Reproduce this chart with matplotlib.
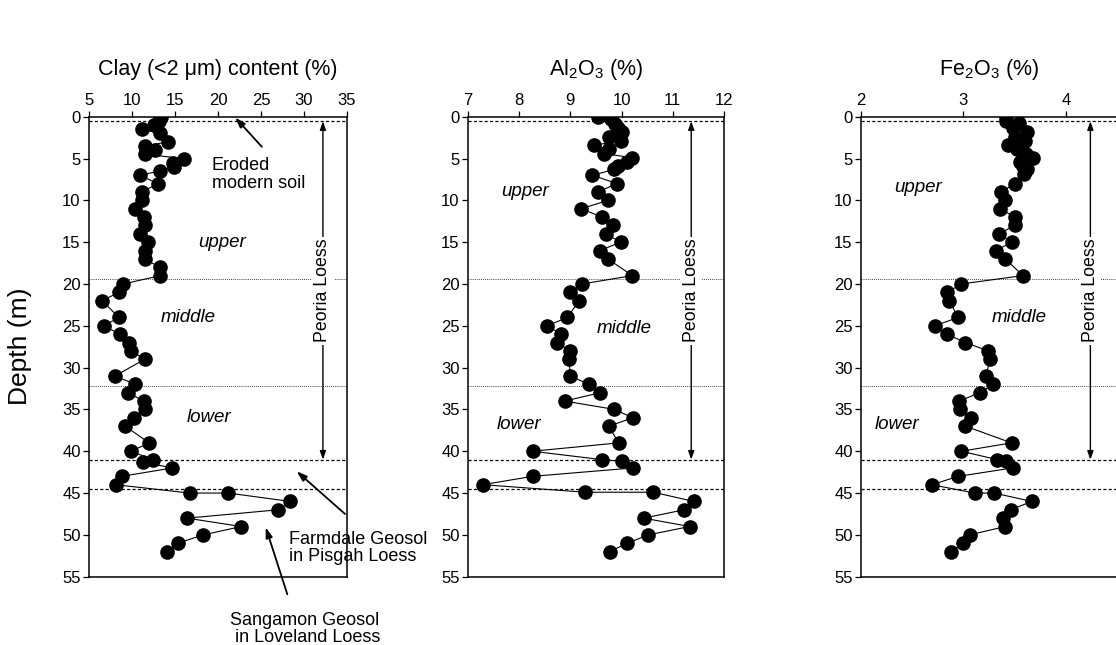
import matplotlib
matplotlib.use("Agg")
import matplotlib.pyplot as plt

plt.rcParams['font.family'] = ['Liberation Sans', 'DejaVu Sans']

# ---------------- data ----------------
clay_depth = [0, 0.5, 1.0, 1.5, 2, 3, 3.5, 4, 4.5, 5, 5.5, 6, 6.5, 7, 8, 9, 10, 11, 12, 13,
              14, 15, 16, 17, 18, 19, 20, 21, 22, 24, 25, 26, 27, 28, 29, 31, 32, 33, 34, 35,
              36, 37, 39, 40, 41, 41.3, 42, 43, 44, 45, 45, 46, 47, 48, 49, 50, 51, 52]
clay = [13.4, 13.1, 12.6, 11.2, 13.2, 14.2, 11.5, 12.7, 11.5, 16.1, 14.8, 14.9, 13.2, 10.9, 13.0,
        11.2, 11.2, 10.3, 11.4, 11.5, 10.9, 11.9, 11.5, 11.5, 13.2, 13.3, 9.0, 8.5, 6.5, 8.5,
        6.7, 8.6, 9.6, 9.9, 11.5, 8.0, 10.4, 9.5, 11.4, 11.5, 10.2, 9.2, 12.0, 9.9, 12.4,
        11.3, 14.7, 8.8, 8.1, 16.7, 21.2, 28.4, 27.0, 16.4, 22.7, 18.3, 15.3, 14.1]

al_depth = [0, 0.3, 0.9, 1.3, 1.8, 2.4, 2.9, 3.4, 3.9, 4.4, 4.9, 5.4, 5.9, 6.3, 7, 8, 9, 10, 11, 12,
            13, 14, 15, 16, 17, 19, 20, 21, 22, 24, 25, 26, 27, 28, 29, 31, 32, 33, 34, 35,
            36, 37, 39, 40, 41, 41.2, 42, 43, 44, 44.9, 44.9, 46, 47, 48, 49, 50, 51, 52]
al2o3 = [9.54, 9.79, 9.88, 9.92, 10.0, 9.75, 9.98, 9.47, 9.75, 9.65, 10.2, 10.1, 9.92, 9.86, 9.43,
         9.91, 9.54, 9.74, 9.21, 9.62, 9.83, 9.70, 9.98, 9.58, 9.73, 10.21, 9.23, 8.99, 9.17, 8.94,
         8.55, 8.82, 8.74, 9.0, 8.97, 9.0, 9.36, 9.58, 8.89, 9.86, 10.22, 9.75, 9.94, 8.26, 9.61,
         10.01, 10.22, 8.26, 7.29, 9.29, 10.62, 11.41, 11.22, 10.43, 11.33, 10.52, 10.11, 9.77]

fe_depth = [0, 0.5, 0.8, 1.4, 1.8, 2.4, 2.9, 3.4, 3.9, 4.4, 4.9, 5.4, 5.9, 6.3, 6.9, 8, 9, 10, 11, 12,
            13, 14, 15, 16, 17, 19, 20, 21, 22, 24, 25, 26, 27, 28, 29, 31, 32, 33, 34, 35,
            36, 37, 39, 40, 41, 41.2, 42, 43, 44, 45, 45, 46, 47, 48, 49, 50, 51, 52]
fe2o3 = [3.42, 3.42, 3.54, 3.48, 3.62, 3.50, 3.60, 3.44, 3.52, 3.61, 3.68, 3.55, 3.58, 3.62, 3.59,
         3.50, 3.37, 3.41, 3.36, 3.50, 3.50, 3.35, 3.47, 3.32, 3.41, 3.58, 2.98, 2.84, 2.86, 2.95,
         2.72, 2.84, 3.02, 3.24, 3.26, 3.22, 3.29, 3.16, 2.96, 2.97, 3.07, 3.02, 3.47, 2.98, 3.33,
         3.42, 3.48, 2.95, 2.69, 3.11, 3.30, 3.67, 3.46, 3.39, 3.41, 3.06, 3.00, 2.88]

titles = ["Clay (<2 \u03bcm) content (%)",
          "Al$_\\mathregular{2}$O$_\\mathregular{3}$ (%)",
          "Fe$_\\mathregular{2}$O$_\\mathregular{3}$ (%)"]
xticks = [[5, 10, 15, 20, 25, 30, 35], [7, 8, 9, 10, 11, 12], [2, 3, 4]]
xlims = [(5, 35), (7, 12), (2, 4.5)]
yticks = [0, 5, 10, 15, 20, 25, 30, 35, 40, 45, 50, 55]

dashed_depths = [0.5, 41.0, 44.5]
dotted_depths = [19.4, 32.2]
peoria_x = [32.2, 11.36, 4.24]
unit_labels = ["upper", "middle", "lower"]
unit_pos = [[(20.5, 15.0), (16.5, 24.0), (19.0, 36.0)],
            [(8.12, 8.9), (10.05, 25.3), (8.0, 36.8)],
            [(2.56, 8.5), (3.54, 24.0), (2.35, 36.8)]]

# ---------------- figure ----------------
W, H = 1116, 645
fig = plt.figure(figsize=(W / 100, H / 100), dpi=100)

top_px, bot_px = 116.7, 576.7
lefts_px = [89, 468, 861]
widths_px = [258, 256, 256]

series = [(clay, clay_depth), (al2o3, al_depth), (fe2o3, fe_depth)]
axes = []
for i in range(3):
    ax = fig.add_axes([lefts_px[i] / W, 1 - bot_px / H, widths_px[i] / W, (bot_px - top_px) / H])
    axes.append(ax)
    x, d = series[i]
    ax.set_xlim(*xlims[i])
    ax.set_ylim(55, 0)
    ax.set_xticks(xticks[i])
    ax.set_yticks(yticks)
    ax.xaxis.tick_top()
    ax.tick_params(axis='both', direction='out', length=4, width=0.9, labelsize=12, pad=2,
                   colors='black')
    ax.tick_params(axis='x', top=True, bottom=False)
    ax.tick_params(axis='y', right=False)
    for s in ax.spines.values():
        s.set_linewidth(1.1)
    for dd in dashed_depths:
        ax.axhline(dd, color='black', lw=0.9, ls=(0, (2.5, 1.8)), zorder=1)
    for dd in dotted_depths:
        ax.axhline(dd, color='black', lw=0.6, ls=(0, (1, 1.5)), zorder=1)
    ax.plot(x, d, color='black', lw=0.8, marker='o', markersize=9.5,
            markerfacecolor='black', markeredgecolor='black', zorder=3)
    # Peoria Loess double arrow
    ax.annotate('', xy=(peoria_x[i], 0.55), xytext=(peoria_x[i], 20.8),
                arrowprops=dict(arrowstyle='-|>,head_length=0.5,head_width=0.18',
                                lw=1.0, color='black', shrinkA=0, shrinkB=0), zorder=4)
    ax.annotate('', xy=(peoria_x[i], 41.0), xytext=(peoria_x[i], 20.8),
                arrowprops=dict(arrowstyle='-|>,head_length=0.5,head_width=0.18',
                                lw=1.0, color='black', shrinkA=0, shrinkB=0), zorder=4)
    ax.text(peoria_x[i], 20.8, "Peoria Loess", rotation=90, ha='center', va='center',
            fontsize=12.75, zorder=5,
            bbox=dict(facecolor='white', edgecolor='none', pad=1.5))
    for lab, (px, py) in zip(unit_labels, unit_pos[i]):
        ax.text(px, py, lab, style='italic', ha='center', va='center', fontsize=13.5, zorder=5)
    fig.text((lefts_px[i] + widths_px[i] / 2) / W, 1 - 70 / H, titles[i],
             ha='center', va='center', fontsize=15.5)

fig.text(20 / W, 1 - 346 / H, "Depth (m)", rotation=90, ha='center', va='center', fontsize=19)

# annotations on the clay panel
ax0 = axes[0]
arrow_kw = dict(arrowstyle='-|>,head_length=0.6,head_width=0.2', lw=1.3, color='black',
                shrinkA=0, shrinkB=0)
ax0.text(19.3, 6.9, "Eroded\nmodern soil", ha='left', va='center', fontsize=13,
         linespacing=1.1)
ax0.annotate('', xy=(22.0, 0.1), xytext=(25.1, 3.6), arrowprops=arrow_kw)

ax0.annotate('', xy=(29.15, 42.4), xytext=(34.77, 47.5), arrowprops=arrow_kw,
             annotation_clip=False)
fig.text(289 / W, 1 - 548 / H, "Farmdale Geosol\nin Pisgah Loess", ha='left', va='center',
         fontsize=13, linespacing=1.05)

ax0.annotate('', xy=(25.55, 49.1), xytext=(28.06, 57.1), arrowprops=arrow_kw,
             annotation_clip=False)
fig.text(230 / W, 1 - 629 / H, "Sangamon Geosol\n in Loveland Loess", ha='left', va='center',
         fontsize=13, linespacing=0.95)

fig.savefig("out.png", dpi=100)
